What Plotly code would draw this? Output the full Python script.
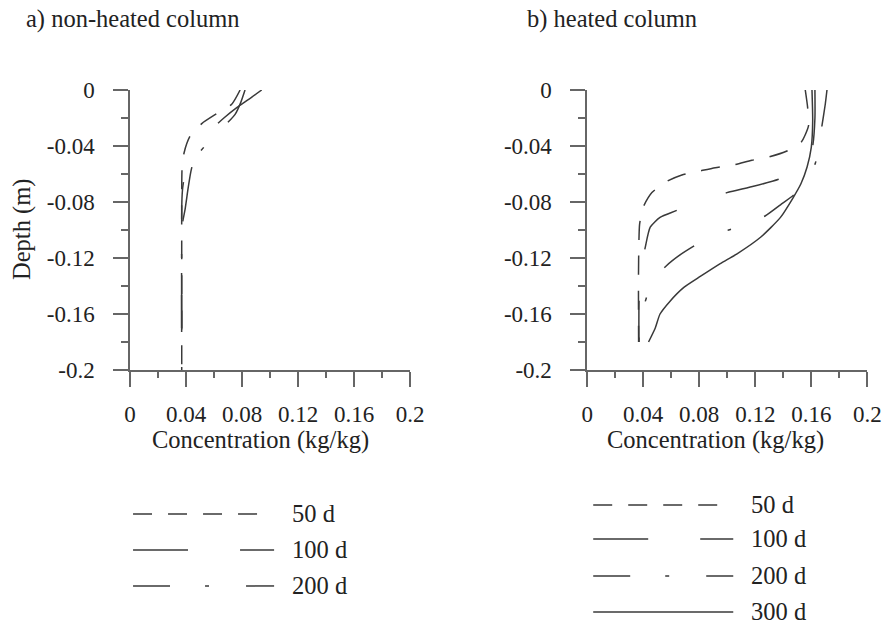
import plotly.graph_objects as go

# ---------------- data ----------------
# a) non-heated column
a50_conc = [0.0786, 0.0726, 0.0619, 0.0512, 0.0429, 0.0386, 0.0372, 0.0369, 0.0369, 0.0369]
a50_depth = [0.0, -0.0102, -0.0169, -0.0240, -0.0329, -0.0448, -0.055, -0.07, -0.12, -0.2]
a100_conc = [0.094, 0.085, 0.0762, 0.067, 0.0583, 0.051, 0.046, 0.0435, 0.0415, 0.0393, 0.0375, 0.0369, 0.0369]
a100_depth = [0.0, -0.0065, -0.0126, -0.020, -0.0281, -0.037, -0.048, -0.058, -0.070, -0.0852, -0.095, -0.11, -0.2]
a200_conc = [0.0821, 0.079, 0.075, 0.068, 0.061, 0.056, 0.050, 0.044, 0.0393, 0.0376, 0.0370, 0.0369]
a200_depth = [0.0, -0.009, -0.0174, -0.025, -0.031, -0.037, -0.044, -0.051, -0.0602, -0.0698, -0.08, -0.2]

# b) heated column
b50_conc = [0.1557, 0.1574, 0.158, 0.1526, 0.1426, 0.1295, 0.1176, 0.1045, 0.0914, 0.0802,
            0.0676, 0.0564, 0.0462, 0.0398, 0.0374, 0.0369, 0.0366, 0.0367]
b50_depth = [0.0, -0.0126, -0.0257, -0.0376, -0.0436, -0.0479, -0.0502, -0.0536, -0.0555, -0.0579,
             -0.0607, -0.0655, -0.0733, -0.084, -0.096, -0.109, -0.135, -0.18]
b100_conc = [0.1626, 0.1626, 0.161, 0.157, 0.148, 0.1367, 0.118, 0.0998, 0.085, 0.072, 0.064,
             0.052, 0.045, 0.0414, 0.038, 0.0370, 0.0369]
b100_depth = [0.0, -0.02, -0.04, -0.052, -0.059, -0.0638, -0.069, -0.0733, -0.077, -0.082, -0.086,
              -0.091, -0.098, -0.1126, -0.13, -0.15, -0.18]
b200_conc = [0.1712, 0.170, 0.1676, 0.166, 0.163, 0.158, 0.1474, 0.138, 0.127, 0.113, 0.101,
             0.088, 0.077, 0.066, 0.0564, 0.048, 0.0424, 0.039, 0.0372, 0.0369]
b200_depth = [0.0, -0.01, -0.0257, -0.038, -0.052, -0.063, -0.075, -0.082, -0.09, -0.096, -0.10,
              -0.105, -0.111, -0.118, -0.1257, -0.135, -0.148, -0.16, -0.17, -0.18]
b300_conc = [0.1605, 0.161, 0.160, 0.157, 0.1526, 0.147, 0.138, 0.124, 0.107, 0.095, 0.081,
             0.069, 0.059, 0.052, 0.0486, 0.0438]
b300_depth = [0.0, -0.022, -0.041, -0.055, -0.067, -0.077, -0.091, -0.105, -0.117, -0.124, -0.133,
              -0.141, -0.151, -0.160, -0.170, -0.180]

x_tickvals = [0, 0.04, 0.08, 0.12, 0.16, 0.2]
x_ticktext = ["0", "0.04", "0.08", "0.12", "0.16", "0.2"]
x_minorvals = [0.02, 0.06, 0.10, 0.14, 0.18]
y_tickvals = [0, -0.04, -0.08, -0.12, -0.16, -0.2]
y_ticktext = ["0", "-0.04", "-0.08", "-0.12", "-0.16", "-0.2"]
y_minorvals = [-0.02, -0.06, -0.10, -0.14, -0.18]

series_labels_a = ["50 d", "100 d", "200 d"]
series_labels_b = ["50 d", "100 d", "200 d", "300 d"]
dash_styles = {"50 d": "19px,16px", "100 d": "55px,52px", "200 d": "37px,35px,4px,37px", "300 d": "solid"}

# ---------------- figure ----------------
FW, FH = 883, 624
# observed placement of the figure in the photo: offset and scale
OX, OY, SX, SY = 6.0, 11.0, 0.977, 0.96
FONT = "Liberation Serif"
LINE_COLOR = "#3a3a3a"
AXIS_COLOR = "#666666"
FS_TICK = 23
FS_TEXT = 24.5

def px_x(t):
    return (t - OX) / SX / FW

def px_y(t):
    return 1 - (t - OY) / SY / FH

fig = go.Figure()

a_series = [(a50_conc, a50_depth, "50 d"), (a100_conc, a100_depth, "100 d"), (a200_conc, a200_depth, "200 d")]
b_series = [(b50_conc, b50_depth, "50 d"), (b100_conc, b100_depth, "100 d"),
            (b200_conc, b200_depth, "200 d"), (b300_conc, b300_depth, "300 d")]

for xs, ys, name in a_series:
    fig.add_trace(go.Scatter(x=xs, y=ys, mode="lines", name=name, showlegend=False,
                             line=dict(color=LINE_COLOR, width=1.5, dash=dash_styles[name], shape="spline", smoothing=0.6),
                             xaxis="x", yaxis="y"))
for xs, ys, name in b_series:
    fig.add_trace(go.Scatter(x=xs, y=ys, mode="lines", name=name, showlegend=False,
                             line=dict(color=LINE_COLOR, width=1.5, dash=dash_styles[name], shape="spline", smoothing=0.6),
                             xaxis="x2", yaxis="y2"))

def xaxis_def(domain, anchor):
    return dict(domain=domain, anchor=anchor, range=[0, 0.2], showgrid=False, zeroline=False,
                showline=True, linecolor=AXIS_COLOR, linewidth=1.5,
                ticks="outside", ticklen=15, tickwidth=1.5, tickcolor=AXIS_COLOR,
                tickmode="array", tickvals=x_tickvals, ticktext=x_ticktext,
                ticklabelstandoff=8,
                minor=dict(ticks="outside", ticklen=6, tickwidth=1.5, tickcolor=AXIS_COLOR,
                           tickmode="array", tickvals=x_minorvals),
                tickfont=dict(family=FONT, size=FS_TICK, color="#222222"))

def yaxis_def(domain, anchor):
    return dict(domain=domain, anchor=anchor, range=[-0.2, 0], showgrid=False, zeroline=False,
                showline=True, linecolor=AXIS_COLOR, linewidth=1.5,
                ticks="outside", ticklen=15, tickwidth=1.5, tickcolor=AXIS_COLOR,
                tickmode="array", tickvals=y_tickvals, ticktext=y_ticktext,
                ticklabelstandoff=14,
                minor=dict(ticks="outside", ticklen=7, tickwidth=1.5, tickcolor=AXIS_COLOR,
                           tickmode="array", tickvals=y_minorvals),
                tickfont=dict(family=FONT, size=FS_TICK, color="#222222"))

ydom = [px_y(369), px_y(89)]
fig.update_layout(
    width=FW, height=FH, margin=dict(l=0, r=0, t=0, b=0, pad=0), autosize=False,
    paper_bgcolor="white", plot_bgcolor="white", showlegend=False,
    font=dict(family=FONT, size=FS_TEXT, color="#222222"),
    xaxis=xaxis_def([px_x(130), px_x(410)], "y"),
    yaxis=yaxis_def(ydom, "x"),
    xaxis2=xaxis_def([px_x(587), px_x(867)], "y2"),
    yaxis2=yaxis_def(ydom, "x2"),
)

annots = []
txt = dict(family=FONT, size=FS_TEXT, color="#222222")
annots.append(dict(text="a) non-heated column", x=px_x(24), y=px_y(18), xref="paper", yref="paper",
                   xanchor="left", yanchor="middle", showarrow=False, font=txt))
annots.append(dict(text="b) heated column", x=px_x(525), y=px_y(18), xref="paper", yref="paper",
                   xanchor="left", yanchor="middle", showarrow=False, font=txt))
annots.append(dict(text="Depth (m)", x=px_x(22), y=px_y(229), xref="paper", yref="paper", textangle=-90,
                   xanchor="center", yanchor="middle", showarrow=False, font=txt))
for cx in (260, 715):
    annots.append(dict(text="Concentration (kg/kg)", x=px_x(cx), y=px_y(439), xref="paper", yref="paper",
                       xanchor="center", yanchor="middle", showarrow=False, font=txt))

shapes = []
leg_a_y = [513, 549, 585]
leg_a_x1 = {"50 d": 258, "100 d": 274, "200 d": 274}
for lab, yy in zip(series_labels_a, leg_a_y):
    shapes.append(dict(type="line", xref="paper", yref="paper", x0=px_x(133), x1=px_x(leg_a_x1[lab]),
                       y0=px_y(yy), y1=px_y(yy), line=dict(color=LINE_COLOR, width=1.5, dash=dash_styles[lab])))
    annots.append(dict(text=lab, x=px_x(290), y=px_y(yy), xref="paper", yref="paper", xanchor="left",
                       yanchor="middle", showarrow=False, font=txt))
leg_b_y = [504, 538, 575, 611]
leg_b_x1 = {"50 d": 717, "100 d": 733, "200 d": 733, "300 d": 733}
for lab, yy in zip(series_labels_b, leg_b_y):
    shapes.append(dict(type="line", xref="paper", yref="paper", x0=px_x(593), x1=px_x(leg_b_x1[lab]),
                       y0=px_y(yy), y1=px_y(yy), line=dict(color=LINE_COLOR, width=1.5, dash=dash_styles[lab])))
    annots.append(dict(text=lab, x=px_x(749), y=px_y(yy), xref="paper", yref="paper", xanchor="left",
                       yanchor="middle", showarrow=False, font=txt))

fig.update_layout(annotations=annots, shapes=shapes)
fig.write_html("out.html")
